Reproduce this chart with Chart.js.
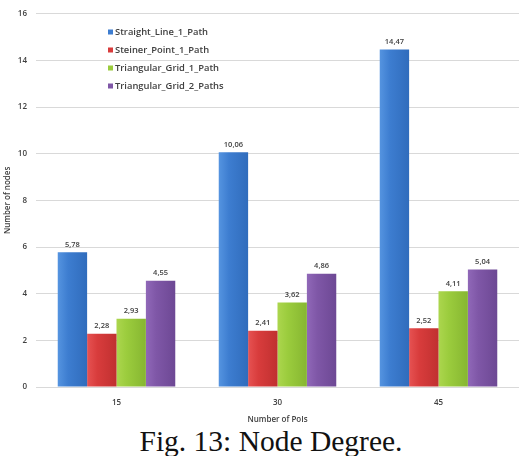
<!DOCTYPE html>
<html>
<head>
<meta charset="utf-8">
<script src="https://cdn.jsdelivr.net/npm/chart.js@4.4.1/dist/chart.umd.min.js"></script>
<style>
  html, body { margin: 0; padding: 0; background: #fff; }
  #wrap { position: relative; width: 531px; height: 456px; }
  #box { position: absolute; left: 0; top: 0; width: 531px; height: 425px; }
  #caption { position: absolute; left: 0; top: 425px; width: 542px; text-align: center;
    font-family: "Liberation Serif", "DejaVu Serif", serif; font-size: 29.5px; color: #111; line-height: 32px; }
</style>
</head>
<body>
<div id="wrap">
  <div id="box"><canvas id="c"></canvas></div>
  <div id="caption">Fig. 13: Node Degree.</div>
</div>
<script>
const categories = ["15", "30", "45"];
const seriesNames = ["Straight_Line_1_Path", "Steiner_Point_1_Path", "Triangular_Grid_1_Path", "Triangular_Grid_2_Paths"];
const straightLine = [5.78, 10.06, 14.47];
const steinerPoint = [2.28, 2.41, 2.52];
const triGrid1 = [2.93, 3.62, 4.11];
const triGrid2 = [4.55, 4.86, 5.04];
const yTicks = [0, 2, 4, 6, 8, 10, 12, 14, 16];

const colors = [
  ["#5594e0", "#3d7dd0", "#306cbc"],
  ["#e65252", "#d83c3c", "#c03030"],
  ["#acd64e", "#9bcc3d", "#86b631"],
  ["#9068b8", "#7f57a7", "#6d4894"]
];
const values = [straightLine, steinerPoint, triGrid1, triGrid2];

const uiFont = "'Open Sans', 'Liberation Sans', sans-serif";

const gradientPlugin = {
  id: 'barGrad',
  beforeDatasetsDraw(chart) {
    const ctx = chart.ctx;
    chart.data.datasets.forEach((ds, i) => {
      const meta = chart.getDatasetMeta(i);
      meta.data.forEach(el => {
        const w = el.width;
        const g = ctx.createLinearGradient(el.x - w / 2, 0, el.x + w / 2, 0);
        g.addColorStop(0, colors[i][0]);
        g.addColorStop(0.35, colors[i][1]);
        g.addColorStop(1, colors[i][2]);
        el.options = Object.assign({}, el.options, { backgroundColor: g });
      });
    });
  },
  afterDatasetsDraw(chart) {
    const ctx = chart.ctx;
    ctx.save();
    ctx.font = "600 7.5px " + uiFont;
    ctx.fillStyle = "#404040";
    ctx.textAlign = "center";
    ctx.textBaseline = "bottom";
    chart.data.datasets.forEach((ds, i) => {
      const meta = chart.getDatasetMeta(i);
      meta.data.forEach((el, j) => {
        const v = ds.data[j];
        ctx.fillText(v.toFixed(2).replace('.', ','), el.x, el.y - 4);
      });
    });
    // legend
    const lx = 108, ly0 = 32, step = 18;
    ctx.font = "600 9.4px " + uiFont;
    ctx.textAlign = "left";
    ctx.textBaseline = "middle";
    chart.data.datasets.forEach((ds, i) => {
      const y = ly0 + i * step;
      ctx.fillStyle = colors[i][1];
      ctx.fillRect(lx, y - 2.5, 5, 5);
      ctx.fillStyle = "#404040";
      ctx.fillText(ds.label, lx + 7, y);
    });
    ctx.restore();
  }
};

new Chart(document.getElementById('c'), {
  type: 'bar',
  data: {
    labels: categories,
    datasets: seriesNames.map((n, i) => ({
      label: n,
      data: values[i],
      backgroundColor: colors[i][1],
      borderWidth: 0,
      categoryPercentage: 0.73,
      barPercentage: 1.0
    }))
  },
  options: {
    responsive: true,
    maintainAspectRatio: false,
    animation: false,
    layout: { padding: { top: 11, right: 12, left: 0, bottom: 0 } },
    plugins: { legend: { display: false }, tooltip: { enabled: false } },
    scales: {
      x: {
        afterFit(scale) { scale.height = 38; },
        grid: { display: false, drawTicks: false },
        border: { display: false },
        ticks: { color: "#404040", font: { family: uiFont, size: 8, weight: 600 }, padding: 11 },
        title: { display: true, text: "Number of PoIs", color: "#404040", font: { family: uiFont, size: 8, weight: 600 }, padding: { top: 0, bottom: 0 } }
      },
      y: {
        min: 0, max: 16,
        afterBuildTicks(scale) { scale.ticks = yTicks.map(v => ({ value: v })); },
        afterFit(scale) { scale.width = 36; },
        grid: { color: "#d9d9d9", drawTicks: false },
        border: { display: false },
        ticks: { color: "#404040", font: { family: uiFont, size: 8, weight: 600 }, padding: 9 },
        title: { display: true, text: "Number of nodes", color: "#404040", font: { family: uiFont, size: 8, weight: 600 }, padding: { top: 3, bottom: 0 } }
      }
    }
  },
  plugins: [gradientPlugin]
});
</script>
</body>
</html>
